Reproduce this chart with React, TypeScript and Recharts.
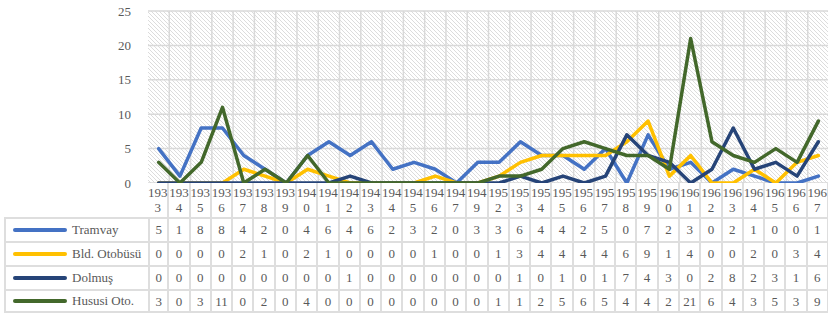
import React from 'react'
import { LineChart, Line, XAxis, YAxis, CartesianGrid } from 'recharts'

const YEARS = [
  '1933', '1934', '1935', '1936', '1937', '1938', '1939', '1940', '1941', '1942', '1943',
  '1944', '1945', '1946', '1947', '1949', '1952', '1953', '1954', '1955', '1956', '1957',
  '1958', '1959', '1960', '1961', '1962', '1963', '1964', '1965', '1966', '1967',
]
const TRAMVAY = [5, 1, 8, 8, 4, 2, 0, 4, 6, 4, 6, 2, 3, 2, 0, 3, 3, 6, 4, 4, 2, 5, 0, 7, 2, 3, 0, 2, 1, 0, 0, 1]
const BLD_OTOBUSU = [0, 0, 0, 0, 2, 1, 0, 2, 1, 0, 0, 0, 0, 1, 0, 0, 1, 3, 4, 4, 4, 4, 6, 9, 1, 4, 0, 0, 2, 0, 3, 4]
const DOLMUS = [0, 0, 0, 0, 0, 0, 0, 0, 0, 1, 0, 0, 0, 0, 0, 0, 0, 1, 0, 1, 0, 1, 7, 4, 3, 0, 2, 8, 2, 3, 1, 6]
const HUSUSI_OTO = [3, 0, 3, 11, 0, 2, 0, 4, 0, 0, 0, 0, 0, 0, 0, 0, 1, 1, 2, 5, 6, 5, 4, 4, 2, 21, 6, 4, 3, 5, 3, 9]
const Y_TICKS = [0, 5, 10, 15, 20, 25]

const SERIES = [
  { key: 'tramvay', name: 'Tramvay', color: '#4472C4', values: TRAMVAY },
  { key: 'bld', name: 'Bld. Otobüsü', color: '#FFC000', values: BLD_OTOBUSU },
  { key: 'dolmus', name: 'Dolmuş', color: '#264478', values: DOLMUS },
  { key: 'hususi', name: 'Hususi Oto.', color: '#43682B', values: HUSUSI_OTO },
]

const data = YEARS.map((year, i) => {
  const row: Record<string, string | number> = { year }
  SERIES.forEach((s) => (row[s.key] = s.values[i]))
  return row
})

// plot geometry
const PLOT_LEFT = 148
const PLOT_RIGHT = 829
const PLOT_TOP = 11
const PLOT_BOTTOM = 183
const CHART_W = 830
const CHART_H = 200
const Y_AXIS_W = 40
const COL_W = (PLOT_RIGHT - PLOT_LEFT) / YEARS.length

const TEXT = '#595959'
const BORDER = '2px solid #dedede'
const FONT = '"Liberation Serif", "Times New Roman", serif'
const FS = 13

export default function App() {
  return (
    <div
      style={{
        position: 'absolute',
        left: 0,
        top: 0,
        width: 828,
        height: 315,
        overflow: 'hidden',
        background: '#fff',
        fontFamily: FONT,
        color: TEXT,
      }}
    >
      <svg width={0} height={0} style={{ position: 'absolute' }}>
        <defs>
          <pattern id="hatch" patternUnits="userSpaceOnUse" width={4} height={4}>
            <path d="M0,0 L4,4 M-1,3 L1,5 M3,-1 L5,1" stroke="#dcdcdc" strokeWidth={1} />
          </pattern>
        </defs>
      </svg>

      <div style={{ position: 'absolute', left: 0, top: 0 }}>
        <LineChart
          width={CHART_W}
          height={CHART_H}
          data={data}
          margin={{
            top: PLOT_TOP,
            bottom: CHART_H - PLOT_BOTTOM,
            left: PLOT_LEFT - Y_AXIS_W,
            right: CHART_W - PLOT_RIGHT,
          }}
        >
          <CartesianGrid
            fill="url(#hatch)"
            stroke="#d9d9d9"
            strokeWidth={1.5}
            verticalCoordinatesGenerator={({ offset }: any) =>
              YEARS.map((_, i) => offset.left + (i + 1) * (offset.width / YEARS.length))
            }
          />
          <XAxis dataKey="year" hide padding={{ left: COL_W / 2, right: COL_W / 2 }} />
          <YAxis
            width={Y_AXIS_W}
            domain={[0, 25]}
            ticks={Y_TICKS}
            axisLine={false}
            tickLine={false}
            tickSize={0}
            tickMargin={17}
            tick={{ fill: TEXT, fontSize: FS, fontFamily: FONT }}
          />
          {SERIES.map((s) => (
            <Line
              key={s.key}
              dataKey={s.key}
              name={s.name}
              stroke={s.color}
              strokeWidth={3.5}
              strokeLinejoin="round"
              strokeLinecap="round"
              dot={false}
              activeDot={false}
              isAnimationActive={false}
            />
          ))}
        </LineChart>
      </div>

      {/* data table under the plot */}
      <div style={{ position: 'absolute', left: 0, top: PLOT_BOTTOM }}>
        <div style={{ display: 'flex', height: 34 }}>
          <div style={{ width: PLOT_LEFT, flex: 'none' }} />
          {YEARS.map((y) => (
            <div
              key={y}
              style={{
                width: COL_W,
                flex: 'none',
                boxSizing: 'border-box',
                borderRight: BORDER,
                textAlign: 'center',
                fontSize: FS,
                lineHeight: '15px',
                paddingTop: 2,
                whiteSpace: 'nowrap',
                background: '#fff',
              }}
            >
              <div style={{ marginLeft: -4, marginRight: -4 }}>{y.slice(0, 3)}</div>
              <div>{y.slice(3)}</div>
            </div>
          ))}
        </div>
        {SERIES.map((s, r) => (
          <div key={s.key} style={{ display: 'flex', height: 24 }}>
            <div
              style={{
                marginLeft: 4,
                width: PLOT_LEFT - 4,
                flex: 'none',
                boxSizing: 'border-box',
                borderLeft: BORDER,
                borderTop: BORDER,
                borderBottom: r === SERIES.length - 1 ? BORDER : undefined,
                display: 'flex',
                alignItems: 'center',
                fontSize: FS,
              }}
            >
              <div
                style={{
                  marginLeft: 7,
                  width: 54,
                  height: 4,
                  borderRadius: 2,
                  background: s.color,
                  flex: 'none',
                }}
              />
              <span style={{ marginLeft: 5, whiteSpace: 'nowrap' }}>{s.name}</span>
            </div>
            {s.values.map((v, i) => (
              <div
                key={i}
                style={{
                  width: COL_W,
                  boxSizing: 'border-box',
                  borderLeft: i === 0 ? BORDER : undefined,
                  borderRight: BORDER,
                  borderTop: BORDER,
                  borderBottom: r === SERIES.length - 1 ? BORDER : undefined,
                  textAlign: 'center',
                  fontSize: FS,
                  lineHeight: '22px',
                  flex: 'none',
                }}
              >
                {v}
              </div>
            ))}
          </div>
        ))}
      </div>
    </div>
  )
}
